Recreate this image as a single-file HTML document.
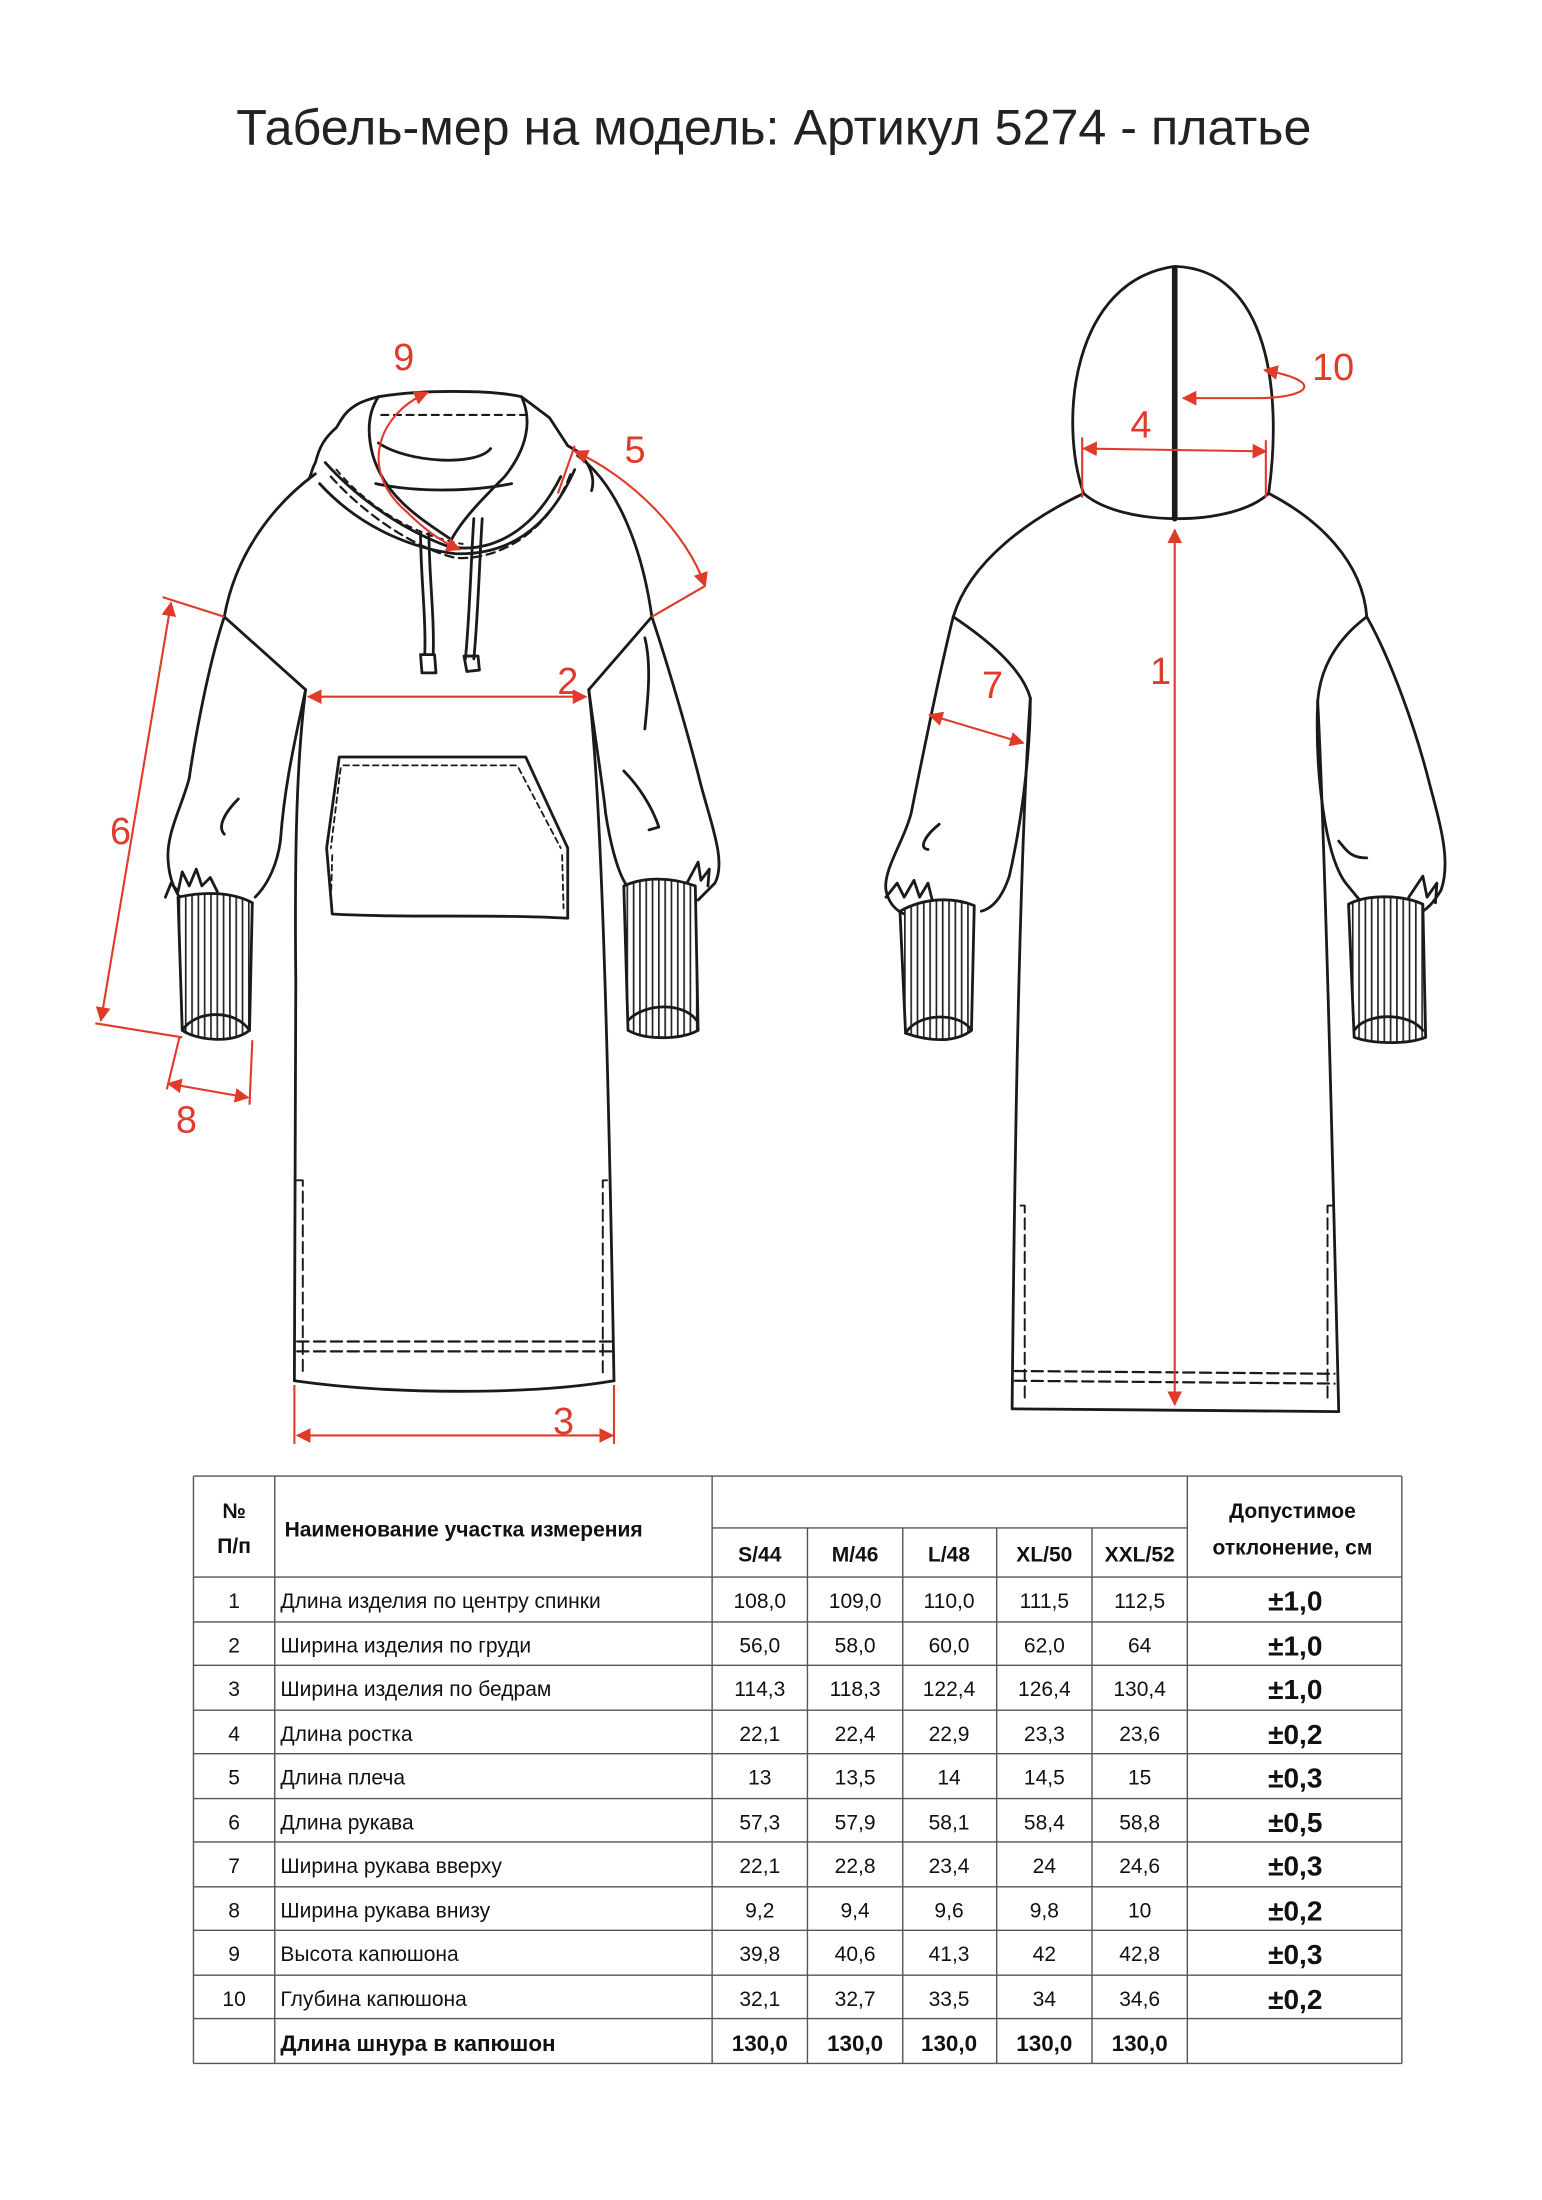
<!DOCTYPE html>
<html><head><meta charset="utf-8"><style>
html,body{margin:0;padding:0;background:#fff;}
svg{display:block;}
.t{font-family:"Liberation Sans",sans-serif;}
</style></head><body>
<svg width="1542" height="2200" viewBox="0 0 1100 1569.4" xmlns="http://www.w3.org/2000/svg">
<defs>
<pattern id="rib" width="4.5" height="10" patternUnits="userSpaceOnUse">
<line x1="2" y1="0" x2="2" y2="10" stroke="#222" stroke-width="1.2"/>
</pattern>
<marker id="ar" viewBox="0 0 10 10" refX="9" refY="5" markerWidth="7" markerHeight="7" orient="auto-start-reverse">
<path d="M0,0 L10,5 L0,10 z" fill="#e03a2a"/>
</marker>
</defs>
<rect width="1100" height="1570" fill="#fff"/>
<text class="t" x="552" y="103" font-size="36" text-anchor="middle" fill="#222" textLength="767" lengthAdjust="spacingAndGlyphs">Табель-мер на модель: Артикул 5274 - платье</text>

<g fill="none" stroke="#1a1a1a" stroke-width="2" stroke-linejoin="round" stroke-linecap="round">
<path d="M243,300 C250,288 262,285 270,283 C300,278 350,278 372,283 L392,298 L405,318 L412,322 C420,330 425,340 422,350"/>
<path d="M243,300 L240,305 C232,312 228,318 225,330 C222,335 222,340 220,342"/>
<path d="M270,283 C262,295 262,310 266,325 C275,355 300,370 322,385"/>
<path d="M372,283 C380,300 376,320 360,340 C345,355 330,370 322,385"/>
<path d="M270,316 C290,330 340,333 350,320" />
<path d="M268,345 C300,352 340,350 365,345"/>
<path d="M232,330 C250,350 280,375 320,390 C350,395 380,380 400,340"/>
<path d="M228,345 C260,380 300,392 325,395 C360,396 390,380 410,335"/>
<path d="M272,296 L375,296" stroke-dasharray="5,4" stroke-width="1.6"/>
<path d="M236,340 C265,372 300,392 325,398 C360,400 395,375 408,335" stroke-dasharray="6,4" stroke-width="1.6"/>
<path d="M240,335 C265,365 300,383 330,388" stroke-dasharray="4,4" stroke-width="1.4"/>
<path d="M300,380 C300,410 304,440 303,467 M306,380 C306,410 310,440 309,467"/>
<path d="M338,370 C336,400 335,440 332,470 M344,370 C342,400 341,440 338,470"/>
<path d="M300,467 L310,467 L311,480 L301,480 Z M331,468 L341,468 L342,478 L333,479 Z"/>
<path d="M225,338 C195,360 168,395 160,440 C150,470 140,520 135,555 C130,575 118,595 120,615 C121,628 125,635 128,640"/>
<path d="M160,440 L218,492"/>
<path d="M218,492 C212,540 210,600 211,700 L210,985"/>
<path d="M218,492 C210,530 203,560 200,600 C198,615 192,630 182,640"/>
<path d="M170,570 C160,580 155,590 160,595"/>
<path d="M412,325 C440,345 458,390 465,440 C475,470 490,520 500,560 C508,590 518,615 510,630 C505,635 500,640 498,642"/>
<path d="M465,440 L420,492"/>
<path d="M420,492 C428,560 433,700 438,985"/>
<path d="M420,492 C425,530 430,560 432,580 C435,600 440,620 446,630"/>
<path d="M460,455 C465,475 462,500 460,520"/>
<path d="M445,550 C455,560 465,575 470,590 L463,592"/>
<path d="M210,985 C280,995 380,995 438,985"/>
<path d="M212,957 L436,957 M212,964 L436,964" stroke-dasharray="8,4" stroke-width="1.6"/>
<path d="M212,842 L216,842 L216,980 M433,842 L430,842 L430,980" stroke-dasharray="8,4" stroke-width="1.4"/>
<path d="M242,540 L375,540 L405,605 L405,655 C350,652 290,655 237,652 L233,605 Z"/>
<path d="M245,546 L370,546 M243,548 L236,605 M370,548 L400,605 M237,610 L236,645 M401,610 L402,648" stroke-dasharray="4,3" stroke-width="1.3"/>
<path d="M127,640 C145,636 165,636 180,644 L178,735 C165,745 140,742 130,735 Z" fill="url(#rib)"/>
<path d="M130,735 C140,720 168,720 178,735" />
<path d="M118,640 L122,630 L127,636 L130,622 L135,632 L140,620 L144,632 L150,626 L155,636"/>
<path d="M445,632 C460,625 480,626 496,632 L498,735 C485,742 460,742 448,735 Z" fill="url(#rib)"/>
<path d="M448,728 C460,715 488,715 497,728"/>
<path d="M490,630 L498,615 L500,628 L506,620 L505,632"/>

<path d="M773,352 C755,300 765,200 838,190 C905,192 915,280 905,352 C880,376 800,376 773,352 Z"/>
<path d="M838,192 L838,370" stroke-width="4"/>
<path d="M773,352 C735,370 692,400 680,440 C670,480 658,540 650,580 C645,600 630,620 632,635 C634,645 640,650 645,652"/>
<path d="M680,440 C710,460 730,480 735,498"/>
<path d="M735,498 C728,600 724,800 722,1005 L955,1007 C950,800 945,600 940,500"/>
<path d="M735,498 C735,540 728,590 720,625 C715,640 708,648 700,650"/>
<path d="M670,588 C660,596 655,605 662,606"/>
<path d="M905,352 C940,370 972,400 975,440 C992,470 1010,520 1020,560 C1028,590 1035,615 1028,635 C1022,645 1018,648 1015,650"/>
<path d="M975,440 C955,455 942,475 940,500"/>
<path d="M940,500 C938,550 945,610 960,630 C965,636 968,640 970,642"/>
<path d="M955,600 C960,606 963,612 975,612"/>
<path d="M728,860 L731,860 L731,1000 M950,860 L947,860 L947,1000" stroke-dasharray="8,4" stroke-width="1.4"/>
<path d="M724,978 L952,980 M724,985 L952,987" stroke-dasharray="8,4" stroke-width="1.6"/>
<path d="M642,650 C660,640 680,640 695,646 L693,735 C680,745 660,742 646,737 Z" fill="url(#rib)"/>
<path d="M646,737 C655,722 685,722 693,735"/>
<path d="M632,640 L640,630 L645,640 L652,628 L656,640 L662,630 L665,642"/>
<path d="M962,645 C975,638 1000,638 1015,645 L1017,740 C1005,745 980,745 966,740 Z" fill="url(#rib)"/>
<path d="M966,735 C975,722 1005,722 1015,735"/>
<path d="M1005,640 L1015,625 L1018,640 L1025,630 L1024,644"/>
</g>

<g fill="none" stroke="#e03a2a" stroke-width="1.5">
<line x1="838" y1="378" x2="838" y2="1002" marker-start="url(#ar)" marker-end="url(#ar)"/>
<line x1="220" y1="497" x2="418" y2="497" marker-start="url(#ar)" marker-end="url(#ar)"/>
<line x1="212" y1="1024" x2="437" y2="1024" marker-start="url(#ar)" marker-end="url(#ar)"/>
<line x1="210" y1="988" x2="210" y2="1030"/><line x1="438" y1="988" x2="438" y2="1030"/>
<line x1="773" y1="320" x2="903" y2="322" marker-start="url(#ar)" marker-end="url(#ar)"/>
<line x1="772" y1="312" x2="772" y2="355"/><line x1="903" y1="314" x2="903" y2="355"/>
<path d="M410,322 C450,340 490,380 503,418" marker-start="url(#ar)" marker-end="url(#ar)"/>
<line x1="503" y1="418" x2="465" y2="440"/>
<line x1="410" y1="318" x2="398" y2="352"/>
<line x1="122" y1="430" x2="72" y2="728" marker-start="url(#ar)" marker-end="url(#ar)"/>
<line x1="116" y1="426" x2="160" y2="440"/><line x1="68" y1="730" x2="130" y2="740"/>
<line x1="663" y1="510" x2="730" y2="530" marker-start="url(#ar)" marker-end="url(#ar)"/>
<line x1="120" y1="773" x2="177" y2="783" marker-start="url(#ar)" marker-end="url(#ar)"/>
<line x1="128" y1="740" x2="119" y2="777"/><line x1="180" y1="742" x2="178" y2="788"/>
<path d="M305,280 C270,295 255,335 290,365 C305,380 318,388 328,392" marker-start="url(#ar)" marker-end="url(#ar)"/>
<path d="M902,264 C945,272 935,283 900,284 L844,284" marker-start="url(#ar)" marker-end="url(#ar)"/>
</g>
<g class="t" fill="#e03a2a" font-size="27" text-anchor="middle">
<text x="828" y="488">1</text><text x="405" y="495">2</text><text x="402" y="1023">3</text>
<text x="814" y="312">4</text><text x="453" y="330">5</text><text x="86" y="602">6</text>
<text x="708" y="498">7</text><text x="133" y="808">8</text><text x="288" y="264">9</text>
<text x="951" y="271">10</text>
</g>

<g stroke="#555" stroke-width="1" fill="none">
<line x1="138" y1="1053" x2="1000" y2="1053"/>
<line x1="508" y1="1090" x2="847" y2="1090"/>
<line x1="138" y1="1125" x2="1000" y2="1125"/>
<line x1="138" y1="1157" x2="1000" y2="1157"/>
<line x1="138" y1="1188" x2="1000" y2="1188"/>
<line x1="138" y1="1220" x2="1000" y2="1220"/>
<line x1="138" y1="1251" x2="1000" y2="1251"/>
<line x1="138" y1="1283" x2="1000" y2="1283"/>
<line x1="138" y1="1314" x2="1000" y2="1314"/>
<line x1="138" y1="1346" x2="1000" y2="1346"/>
<line x1="138" y1="1377" x2="1000" y2="1377"/>
<line x1="138" y1="1409" x2="1000" y2="1409"/>
<line x1="138" y1="1440" x2="1000" y2="1440"/>
<line x1="138" y1="1472" x2="1000" y2="1472"/>
<line x1="138" y1="1053" x2="138" y2="1472"/>
<line x1="196" y1="1053" x2="196" y2="1472"/>
<line x1="508" y1="1053" x2="508" y2="1472"/>
<line x1="576" y1="1090" x2="576" y2="1472"/>
<line x1="644" y1="1090" x2="644" y2="1472"/>
<line x1="711" y1="1090" x2="711" y2="1472"/>
<line x1="779" y1="1090" x2="779" y2="1472"/>
<line x1="847" y1="1053" x2="847" y2="1472"/>
<line x1="1000" y1="1053" x2="1000" y2="1472"/>
</g>
<g class="t" fill="#111" font-size="15">
<g font-weight="bold" text-anchor="middle">
<text x="167" y="1083">№</text><text x="167" y="1108">П/п</text>
<text x="922" y="1083">Допустимое</text><text x="922" y="1109">отклонение, см</text>
<text x="542" y="1114">S/44</text><text x="610" y="1114">M/46</text><text x="677" y="1114">L/48</text><text x="745" y="1114">XL/50</text><text x="813" y="1114">XXL/52</text>
</g>
<text x="203" y="1096" font-weight="bold">Наименование участка измерения</text>
<g text-anchor="middle">
<text x="167" y="1147">1</text><text x="167" y="1179">2</text><text x="167" y="1210">3</text><text x="167" y="1242">4</text><text x="167" y="1273">5</text>
<text x="167" y="1305">6</text><text x="167" y="1336">7</text><text x="167" y="1368">8</text><text x="167" y="1399">9</text><text x="167" y="1431">10</text>
</g>
<text x="200" y="1147">Длина изделия по центру спинки</text>
<text x="200" y="1179">Ширина изделия по груди</text>
<text x="200" y="1210">Ширина изделия по бедрам</text>
<text x="200" y="1242">Длина ростка</text>
<text x="200" y="1273">Длина плеча</text>
<text x="200" y="1305">Длина рукава</text>
<text x="200" y="1336">Ширина рукава вверху</text>
<text x="200" y="1368">Ширина рукава внизу</text>
<text x="200" y="1399">Высота капюшона</text>
<text x="200" y="1431">Глубина капюшона</text>
<text x="200" y="1463" font-weight="bold" font-size="16">Длина шнура в капюшон</text>
<g text-anchor="middle">
<text x="542" y="1147">108,0</text><text x="610" y="1147">109,0</text><text x="677" y="1147">110,0</text><text x="745" y="1147">111,5</text><text x="813" y="1147">112,5</text>
<text x="542" y="1179">56,0</text><text x="610" y="1179">58,0</text><text x="677" y="1179">60,0</text><text x="745" y="1179">62,0</text><text x="813" y="1179">64</text>
<text x="542" y="1210">114,3</text><text x="610" y="1210">118,3</text><text x="677" y="1210">122,4</text><text x="745" y="1210">126,4</text><text x="813" y="1210">130,4</text>
<text x="542" y="1242">22,1</text><text x="610" y="1242">22,4</text><text x="677" y="1242">22,9</text><text x="745" y="1242">23,3</text><text x="813" y="1242">23,6</text>
<text x="542" y="1273">13</text><text x="610" y="1273">13,5</text><text x="677" y="1273">14</text><text x="745" y="1273">14,5</text><text x="813" y="1273">15</text>
<text x="542" y="1305">57,3</text><text x="610" y="1305">57,9</text><text x="677" y="1305">58,1</text><text x="745" y="1305">58,4</text><text x="813" y="1305">58,8</text>
<text x="542" y="1336">22,1</text><text x="610" y="1336">22,8</text><text x="677" y="1336">23,4</text><text x="745" y="1336">24</text><text x="813" y="1336">24,6</text>
<text x="542" y="1368">9,2</text><text x="610" y="1368">9,4</text><text x="677" y="1368">9,6</text><text x="745" y="1368">9,8</text><text x="813" y="1368">10</text>
<text x="542" y="1399">39,8</text><text x="610" y="1399">40,6</text><text x="677" y="1399">41,3</text><text x="745" y="1399">42</text><text x="813" y="1399">42,8</text>
<text x="542" y="1431">32,1</text><text x="610" y="1431">32,7</text><text x="677" y="1431">33,5</text><text x="745" y="1431">34</text><text x="813" y="1431">34,6</text>
<g font-weight="bold" font-size="16">
<text x="542" y="1463">130,0</text><text x="610" y="1463">130,0</text><text x="677" y="1463">130,0</text><text x="745" y="1463">130,0</text><text x="813" y="1463">130,0</text>
</g>
<g font-weight="bold" font-size="20">
<text x="924" y="1149">±1,0</text><text x="924" y="1181">±1,0</text><text x="924" y="1212">±1,0</text><text x="924" y="1244">±0,2</text><text x="924" y="1275">±0,3</text>
<text x="924" y="1307">±0,5</text><text x="924" y="1338">±0,3</text><text x="924" y="1370">±0,2</text><text x="924" y="1401">±0,3</text><text x="924" y="1433">±0,2</text>
</g>
</g>
</g>
</svg>
</body></html>
